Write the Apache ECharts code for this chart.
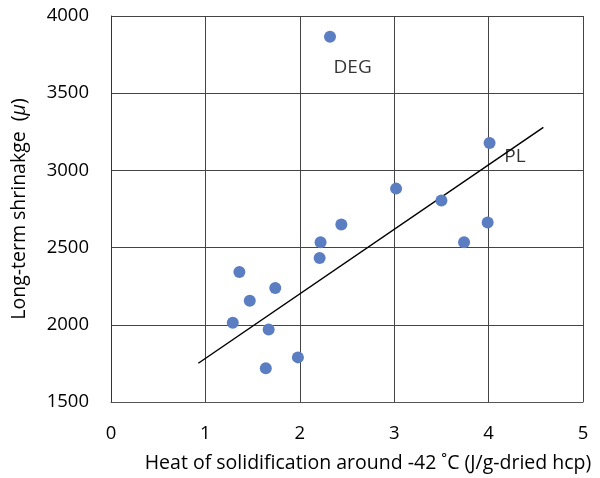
<!DOCTYPE html>
<html>
<head>
<meta charset="UTF-8">
<script src="https://cdn.jsdelivr.net/npm/echarts@6/dist/echarts.min.js"></script>
<style>
  html, body { margin: 0; padding: 0; background: #fff; }
  #chart { width: 600px; height: 478px; }
</style>
</head>
<body>
<div id="chart"></div>
<script>
// measured points (heat of solidification, long-term shrinkage)
const heat = [2.32, 4.01, 3.02, 3.50, 2.44, 3.99, 2.22, 3.74, 2.21, 1.36, 1.74, 1.47, 1.29, 1.67, 1.98, 1.64];
const shrink = [3865, 3177, 2882, 2805, 2650, 2663, 2535, 2535, 2432, 2342, 2239, 2156, 2014, 1969, 1789, 1718];

// trend line end points
const trendX = [0.925, 4.58];
const trendY = [1751, 3278];

// text labels placed in the plot
const labelNames = ['DEG', 'PL'];
const labelX = [2.56, 4.28];
const labelY = [3666, 3087];

const font = '"Open Sans", sans-serif';
const chart = echarts.init(document.getElementById('chart'));

chart.setOption({
    animation: false,
    grid: { left: 111, right: 17, top: 16, bottom: 73 },
    xAxis: {
        type: 'value',
        min: 0, max: 5, interval: 1,
        name: 'Heat of solidification around -42 ˚C (J/g-dried hcp)',
        nameLocation: 'middle',
        nameGap: 51,
        nameTextStyle: { color: '#000', fontSize: 19.5, fontFamily: font, padding: [0, 0, 0, 42] },
        axisLine: { show: true, lineStyle: { color: '#555', width: 1 } },
        axisTick: { show: false },
        axisLabel: { color: '#000', fontSize: 18.5, fontFamily: font, margin: 22 },
        splitLine: { show: true, lineStyle: { color: '#444', width: 1 } }
    },
    yAxis: {
        type: 'value',
        min: 1500, max: 4000, interval: 500,
        name: 'Long-term shrinakge  ({i|μ})',
        nameLocation: 'middle',
        nameGap: 82,
        nameTextStyle: {
            color: '#000', fontSize: 19.5, fontFamily: font,
            rich: { i: { fontStyle: 'italic', fontSize: 19.5, fontFamily: font } }
        },
        axisLine: { show: true, lineStyle: { color: '#333', width: 1 } },
        axisTick: { show: false },
        axisLabel: { color: '#000', fontSize: 18.5, fontFamily: font, margin: 22, formatter: v => String(v) },
        splitLine: { show: true, lineStyle: { color: '#444', width: 1 } }
    },
    series: [
        {
            type: 'line',
            data: trendX.map((x, i) => [x, trendY[i]]),
            showSymbol: false,
            symbol: 'none',
            lineStyle: { color: '#000', width: 1.5 },
            z: 2
        },
        {
            type: 'scatter',
            data: heat.map((x, i) => [x, shrink[i]]),
            symbolSize: 12,
            itemStyle: { color: '#5B7DC1', opacity: 1 },
            z: 3
        },
        {
            type: 'scatter',
            data: labelX.map((x, i) => ({ value: [x, labelY[i]], name: labelNames[i] })),
            symbolSize: 0,
            label: {
                show: true,
                position: 'inside',
                formatter: p => p.name,
                color: '#000', fontSize: 19, fontFamily: font
            },
            z: 4
        }
    ]
});
</script>
</body>
</html>
